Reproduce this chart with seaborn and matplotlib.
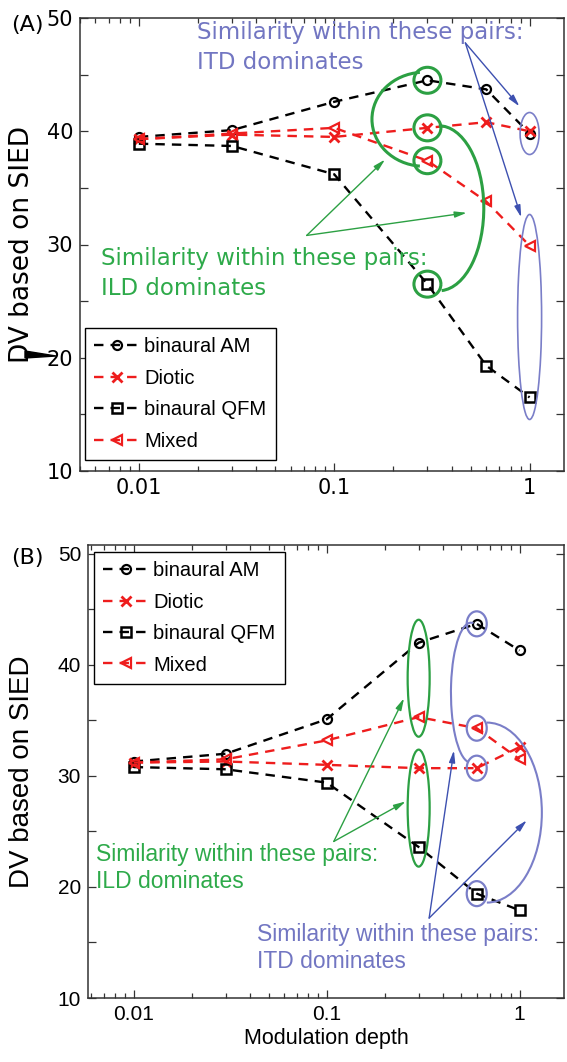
import pandas as pd
import seaborn as sns
import matplotlib.pyplot as plt
from matplotlib.patches import Arc, Polygon
from matplotlib.transforms import ScaledTranslation
from matplotlib.ticker import LogLocator, MultipleLocator, NullFormatter

# modulation depths (x) shared by both panels
depth = [0.01, 0.03, 0.1, 0.3, 0.6, 1.0]
depth_ticks = [0.01, 0.1, 1]
depth_labels = ['0.01', '0.1', '1']
dv_ticks = [10, 20, 30, 40, 50]

series_names = ['binaural AM', 'Diotic', 'binaural QFM', 'Mixed']

# panel A values
a_am = [39.5, 40.1, 42.6, 44.5, 43.7, 39.8]
a_diotic = [39.3, 39.7, 39.5, 40.3, 40.8, 40.0]
a_qfm = [38.9, 38.7, 36.2, 26.5, 19.3, 16.5]
a_mixed = [39.3, 39.8, 40.3, 37.4, 33.8, 29.9]

# panel B values
b_am = [31.3, 32.0, 35.1, 42.0, 43.7, 41.3]
b_diotic = [31.2, 31.3, 31.0, 30.7, 30.7, 32.6]
b_qfm = [30.8, 30.6, 29.4, 23.6, 19.4, 17.9]
b_mixed = [31.2, 31.5, 33.2, 35.3, 34.3, 31.5]

DPI = 100
RED = '#ee1d1d'
GREEN_TXT = '#2eaa4a'
GREEN = '#2ca043'
BLUE_TXT = '#7276c2'
BLUE = '#7a7ec8'
BLUE_ARROW = '#3d50b0'

styles = {
    'binaural AM': dict(color='black', marker='o', markersize=6.5, mew=1.6),
    'Diotic': dict(color=RED, marker='x', markersize=7, mew=2.0),
    'binaural QFM': dict(color='black', marker='s', markersize=6.5, mew=1.8),
    'Mixed': dict(color=RED, marker='<', markersize=7.5, mew=1.6),
}


def long_frame(values):
    rows = []
    for name, vals in zip(series_names, values):
        for d, v in zip(depth, vals):
            rows.append({'depth': d, 'dv': v, 'series': name})
    return pd.DataFrame(rows)


def draw_lines(ax, df):
    for name in series_names:
        st = styles[name]
        sns.lineplot(data=df[df.series == name], x='depth', y='dv', ax=ax,
                     color=st['color'], marker=st['marker'], markersize=st['markersize'],
                     markerfacecolor='none', markeredgecolor=st['color'],
                     markeredgewidth=st['mew'], linestyle=(0, (4, 3)), lw=1.7,
                     errorbar=None, label=name)


def ring(ax, x, y, w, h, color, lw, t1=0.0, t2=360.0):
    # ellipse/arc of fixed pixel size centred on a data position
    tr = ax.figure.dpi_scale_trans + ScaledTranslation(x, y, ax.transData)
    ax.add_patch(Arc((0, 0), w / DPI, h / DPI, theta1=t1, theta2=t2,
                     transform=tr, color=color, lw=lw, zorder=5))


def arrow(ax, start, end, color):
    ax.annotate('', xy=end, xytext=start,
                arrowprops=dict(arrowstyle='-|>,head_length=0.7,head_width=0.18',
                                color=color, lw=1.0, shrinkA=0, shrinkB=0))


def style_axes(ax, xlim, ylim, font):
    ax.set_xscale('log')
    ax.set_xlim(*xlim)
    ax.set_ylim(*ylim)
    ax.set_xticks(depth_ticks)
    ax.set_xticklabels(depth_labels, family=font, fontsize=15)
    ax.xaxis.set_minor_locator(LogLocator(base=10, subs=range(2, 10), numticks=20))
    ax.xaxis.set_minor_formatter(NullFormatter())
    ax.set_yticks(dv_ticks)
    ax.set_yticklabels([str(t) for t in dv_ticks], family=font, fontsize=15)
    ax.yaxis.set_minor_locator(MultipleLocator(5))
    ax.tick_params(which='both', direction='in', top=True, right=True, width=0.9,
                   color='#333333', labelcolor='black')
    ax.tick_params(which='major', length=6, pad=5)
    ax.tick_params(axis='x', which='minor', length=3.5)
    ax.tick_params(axis='y', which='minor', length=6)
    for sp in ax.spines.values():
        sp.set_linewidth(1.1)
        sp.set_color('#333333')
    ax.grid(False)


def add_legend(ax, **pos):
    leg = ax.legend(borderaxespad=0, fancybox=False, edgecolor='black', framealpha=1,
                    prop={'family': 'Liberation Sans', 'size': 14.5},
                    handlelength=2.3, handletextpad=0.2, labelspacing=0.62,
                    borderpad=0.45, **pos)
    leg.get_frame().set_linewidth(1.0)
    for t in leg.get_texts():
        t.set_color('black')


sns.set_style('ticks')
plt.rcParams['font.family'] = ['DejaVu Sans']
plt.rcParams['text.color'] = 'black'
plt.rcParams['axes.labelcolor'] = 'black'

fig = plt.figure(figsize=(567 / DPI, 1062 / DPI), dpi=DPI)
ax_a = fig.add_axes([80 / 567, 1 - 471 / 1062, 484 / 567, 453 / 1062])
ax_b = fig.add_axes([88 / 567, 1 - 998 / 1062, 476 / 567, 453 / 1062])

# ---------- panel A ----------
draw_lines(ax_a, long_frame([a_am, a_diotic, a_qfm, a_mixed]))
style_axes(ax_a, (0.005, 1.5), (10, 50), 'DejaVu Sans')
ax_a.set_xlabel('')
ax_a.set_ylabel('DV based on SIED', fontsize=19, family='DejaVu Sans')
ax_a.yaxis.set_label_coords(-0.093, 0.5)
add_legend(ax_a, loc='lower left', bbox_to_anchor=(5 / 484, 11 / 453))

ax_a.text(0.0198, 49.7, 'Similarity within these pairs:\nITD dominates', color=BLUE_TXT,
          fontsize=16.5, va='top', ha='left', linespacing=1.38)
arrow(ax_a, (0.469, 47.8), (0.887, 42.2), BLUE_ARROW)
arrow(ax_a, (0.469, 47.8), (0.906, 32.4), BLUE_ARROW)
ring(ax_a, depth[5], a_am[5], 19, 42, BLUE, 1.2)
ring(ax_a, depth[5], 23.6, 24, 205, BLUE, 1.2)

for vals in (a_am, a_diotic, a_mixed, a_qfm):
    ring(ax_a, depth[3], vals[3], 27, 26, GREEN, 2.2)
ring(ax_a, 0.288, 41.06, 104, 94, GREEN, 2.2, 95, 265)
ring(ax_a, 0.343, 33.2, 90, 165, GREEN, 2.2, -88, 90)
ax_a.text(0.0064, 29.8, 'Similarity within these pairs:\nILD dominates', color=GREEN_TXT,
          fontsize=16.5, va='top', ha='left', linespacing=1.38)
arrow(ax_a, (0.0723, 30.8), (0.182, 37.5), GREEN)
arrow(ax_a, (0.0723, 30.8), (0.477, 32.8), GREEN)

# ---------- panel B ----------
draw_lines(ax_b, long_frame([b_am, b_diotic, b_qfm, b_mixed]))
style_axes(ax_b, (0.0058, 1.7), (10, 50.8), 'Liberation Sans')
ax_b.set_xlabel('Modulation depth', fontsize=15.5, family='Liberation Sans', labelpad=3)
ax_b.set_ylabel('DV based on SIED', fontsize=20, family='Liberation Sans')
ax_b.yaxis.set_label_coords(-0.111, 0.5)
add_legend(ax_b, loc='upper left', bbox_to_anchor=(6 / 476, 1 - 7 / 453))

ring(ax_b, depth[3], 38.8, 22, 117, GREEN, 1.6)
ring(ax_b, depth[3], 27.1, 22, 117, GREEN, 1.6)
arrow(ax_b, (0.109, 24.1), (0.252, 37.0), GREEN)
arrow(ax_b, (0.109, 24.1), (0.257, 27.7), GREEN)
ax_b.text(0.00635, 24.0, 'Similarity within these pairs:\nILD dominates', color=GREEN_TXT,
          fontsize=16.5, va='top', ha='left', linespacing=1.25, family='Liberation Sans')

for vals in (b_am, b_mixed, b_diotic, b_qfm):
    ring(ax_b, depth[4], vals[4], 20, 25, BLUE, 1.6)
ring(ax_b, 0.56, 37.5, 40, 140, BLUE, 1.5, 88, 268)
ring(ax_b, 0.677, 26.7, 110, 180, BLUE, 1.5, -90, 90)
arrow(ax_b, (0.34, 17.2), (0.457, 32.3), BLUE_ARROW)
arrow(ax_b, (0.34, 17.2), (1.09, 26.0), BLUE_ARROW)
ax_b.text(0.0436, 16.8, 'Similarity within these pairs:\nITD dominates', color=BLUE_TXT,
          fontsize=16.5, va='top', ha='left', linespacing=1.25, family='Liberation Sans')

# panel letters and the small stray mark beside panel A's y axis
fig.text(11 / 567, 1 - 25 / 1062, '(A)', fontsize=16, va='center', ha='left')
fig.text(11 / 567, 1 - 558 / 1062, '(B)', fontsize=16, va='center', ha='left')
fig.add_artist(Polygon([[25 / 567, 1 - 351 / 1062], [25 / 567, 1 - 358 / 1062],
                        [56 / 567, 1 - 356 / 1062]], closed=True,
                       transform=fig.transFigure, color='black'))

fig.savefig('out.png', dpi=DPI)
